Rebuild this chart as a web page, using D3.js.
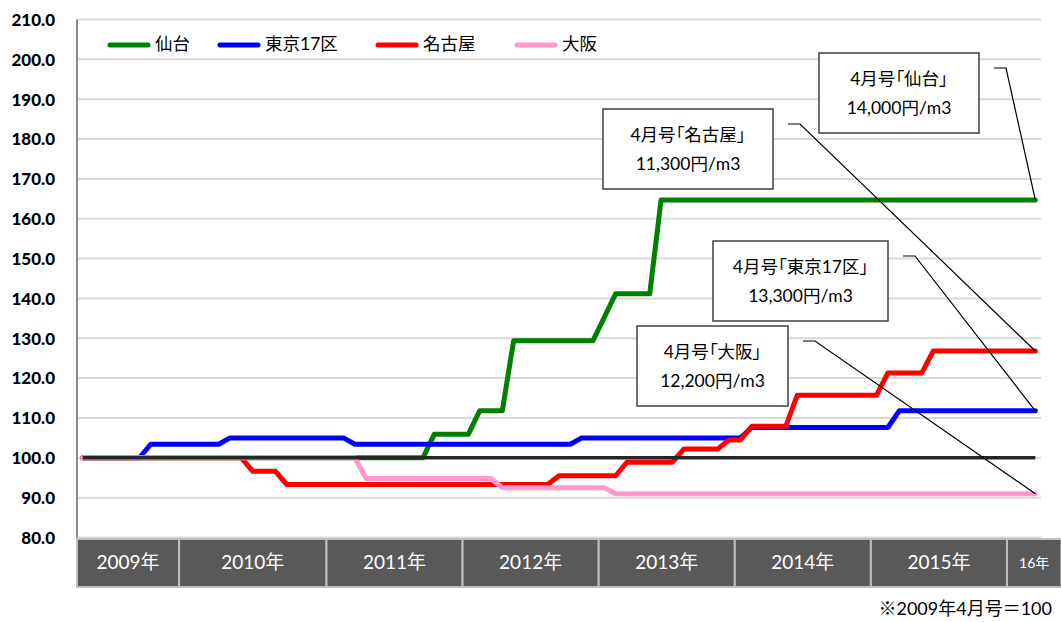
<!DOCTYPE html>
<html>
<head>
<meta charset="utf-8">
<script src="https://cdn.jsdelivr.net/npm/d3@7"></script>
<style>
  body { margin: 0; background: #fff; }
  svg { display: block; }
  text { font-family: Lato, "Noto Sans CJK JP", sans-serif; }
  .callout-title { font-feature-settings: "palt"; }
</style>
</head>
<body>
<script>
// monthly index, 2009年4月号 = 100 (Apr 2009 .. Apr 2016)
const firstMonth = new Date(2009, 3, 1);
const lastMonth = new Date(2016, 3, 1);

const seriesNames = ["仙台", "東京17区", "名古屋", "大阪"];
const seriesColors = ["#008000", "#0000ff", "#ff0000", "#ff99cc"];

const sendai = [
  100, 100, 100, 100, 100, 100, 100, 100, 100,                                   // 2009
  100, 100, 100, 100, 100, 100, 100, 100, 100, 100, 100, 100,                    // 2010
  100, 100, 100, 100, 100, 100, 100, 100, 100, 100, 105.9, 105.9,                // 2011
  105.9, 105.9, 111.8, 111.8, 111.8, 129.4, 129.4, 129.4, 129.4, 129.4, 129.4, 129.4, // 2012
  129.4, 135.3, 141.2, 141.2, 141.2, 141.2, 164.7, 164.7, 164.7, 164.7, 164.7, 164.7, // 2013
  164.7, 164.7, 164.7, 164.7, 164.7, 164.7, 164.7, 164.7, 164.7, 164.7, 164.7, 164.7, // 2014
  164.7, 164.7, 164.7, 164.7, 164.7, 164.7, 164.7, 164.7, 164.7, 164.7, 164.7, 164.7, // 2015
  164.7, 164.7, 164.7, 164.7                                                     // 2016
];
const tokyo17 = [
  100, 100, 100, 100, 100, 100, 103.4, 103.4, 103.4,
  103.4, 103.4, 103.4, 103.4, 105, 105, 105, 105, 105, 105, 105, 105,
  105, 105, 105, 103.4, 103.4, 103.4, 103.4, 103.4, 103.4, 103.4, 103.4, 103.4,
  103.4, 103.4, 103.4, 103.4, 103.4, 103.4, 103.4, 103.4, 103.4, 103.4, 103.4, 105,
  105, 105, 105, 105, 105, 105, 105, 105, 105, 105, 105, 105,
  105, 105, 107.6, 107.6, 107.6, 107.6, 107.6, 107.6, 107.6, 107.6, 107.6, 107.6,
  107.6, 107.6, 107.6, 111.8, 111.8, 111.8, 111.8, 111.8, 111.8, 111.8, 111.8, 111.8,
  111.8, 111.8, 111.8, 111.8
];
const nagoya = [
  100, 100, 100, 100, 100, 100, 100, 100, 100,
  100, 100, 100, 100, 100, 100, 96.6, 96.6, 96.6, 93.3, 93.3, 93.3,
  93.3, 93.3, 93.3, 93.3, 93.3, 93.3, 93.3, 93.3, 93.3, 93.3, 93.3, 93.3,
  93.3, 93.3, 93.3, 93.3, 93.3, 93.3, 93.3, 93.3, 93.3, 95.5, 95.5, 95.5,
  95.5, 95.5, 95.5, 98.9, 98.9, 98.9, 98.9, 98.9, 102.2, 102.2, 102.2, 102.2,
  104.5, 104.5, 107.9, 107.9, 107.9, 107.9, 115.7, 115.7, 115.7, 115.7, 115.7, 115.7,
  115.7, 115.7, 121.3, 121.3, 121.3, 121.3, 126.8, 126.8, 126.8, 126.8, 126.8, 126.8,
  126.8, 126.8, 126.8, 126.8
];
const osaka = [
  100, 100, 100, 100, 100, 100, 100, 100, 100,
  100, 100, 100, 100, 100, 100, 100, 100, 100, 100, 100, 100,
  100, 100, 100, 100, 94.8, 94.8, 94.8, 94.8, 94.8, 94.8, 94.8, 94.8,
  94.8, 94.8, 94.8, 94.8, 92.5, 92.5, 92.5, 92.5, 92.5, 92.5, 92.5, 92.5,
  92.5, 92.5, 91, 91, 91, 91, 91, 91, 91, 91, 91, 91,
  91, 91, 91, 91, 91, 91, 91, 91, 91, 91, 91, 91,
  91, 91, 91, 91, 91, 91, 91, 91, 91, 91, 91, 91,
  91, 91, 91, 91
];
const baseValue = 100;

const yTicks = [80, 90, 100, 110, 120, 130, 140, 150, 160, 170, 180, 190, 200, 210];

// year table under the chart: labels and cell edges in months from Apr 2009
const yearLabels = ["2009年", "2010年", "2011年", "2012年", "2013年", "2014年", "2015年", "16年"];
const yearEdges = [0, 9, 22, 34, 46, 58, 70, 82, 86.8];

// callouts: which series they point at, and their two text lines
const calloutSeries = [0, 2, 1, 3];
const calloutTitles = ["4月号「仙台」", "4月号「名古屋」", "4月号「東京17区」", "4月号「大阪」"];
const calloutPrices = ["14,000円/m3", "11,300円/m3", "13,300円/m3", "12,200円/m3"];

const footnote = "※2009年4月号＝100";

// ---------- layout ----------
const width = 1061, height = 622;
const plotLeft = 77, plotRight = 1041, plotTop = 19.5, plotBottom = 537.5;
const calloutBoxes = [
  { x: 819, y: 53, w: 160, h: 80 },
  { x: 603, y: 109, w: 170, h: 80 },
  { x: 713, y: 241, w: 175, h: 80 },
  { x: 637, y: 326, w: 151, h: 80 }
];
const legendX = [110, 220, 378, 517];

const series = [sendai, tokyo17, nagoya, osaka];
const months = d3.timeMonth.range(firstMonth, d3.timeMonth.offset(lastMonth, 1));

const svg = d3.select("body").append("svg")
  .attr("width", width)
  .attr("height", height);

const x = d3.scaleBand()
  .domain(months.map(d => +d))
  .range([plotLeft, plotRight])
  .padding(0);
const xc = i => x(+months[i]) + x.bandwidth() / 2;
const xEdge = d3.scaleLinear().domain([0, months.length]).range([plotLeft, plotRight]);

const y = d3.scaleLinear().domain([80, 210]).range([plotBottom, plotTop]);

// gridlines
svg.append("g")
  .selectAll("line")
  .data(yTicks)
  .enter()
  .append("line")
  .attr("x1", plotLeft)
  .attr("x2", plotRight)
  .attr("y1", d => y(d))
  .attr("y2", d => y(d))
  .attr("stroke", "#d9d9d9")
  .attr("stroke-width", 2);

// y axis line and labels
svg.append("line")
  .attr("x1", plotLeft).attr("x2", plotLeft)
  .attr("y1", plotTop).attr("y2", plotBottom)
  .attr("stroke", "#8c8c8c")
  .attr("stroke-width", 2);

svg.append("g")
  .selectAll("text")
  .data(yTicks)
  .enter()
  .append("text")
  .attr("x", 55)
  .attr("y", d => y(d) + 2)
  .attr("text-anchor", "end")
  .attr("dominant-baseline", "middle")
  .attr("font-size", 17)
  .attr("font-weight", 900)
  .attr("fill", "#000")
  .text(d => d3.format(".1f")(d));

// year table
const cells = svg.append("g")
  .selectAll("g")
  .data(yearLabels)
  .enter()
  .append("g");

cells.append("rect")
  .attr("x", (d, i) => xEdge(yearEdges[i]))
  .attr("y", 539)
  .attr("width", (d, i) => xEdge(yearEdges[i + 1]) - xEdge(yearEdges[i]))
  .attr("height", 48)
  .attr("fill", "#595959")
  .attr("stroke", "#bfbfbf")
  .attr("stroke-width", 2);

cells.append("text")
  .attr("x", (d, i) => (xEdge(yearEdges[i]) + xEdge(yearEdges[i + 1])) / 2)
  .attr("y", 564)
  .attr("text-anchor", "middle")
  .attr("dominant-baseline", "middle")
  .attr("font-size", (d, i) => i === yearLabels.length - 1 ? 14 : 19)
  .attr("fill", "#fff")
  .text(d => d);

// series lines
const line = d3.line()
  .x((d, i) => xc(i))
  .y(d => y(d));

svg.append("g")
  .selectAll("path")
  .data(series)
  .enter()
  .append("path")
  .attr("d", d => line(d))
  .attr("fill", "none")
  .attr("stroke", (d, i) => seriesColors[i])
  .attr("stroke-width", 5)
  .attr("stroke-linejoin", "round")
  .attr("stroke-linecap", "round");

// 100 baseline
svg.append("line")
  .attr("x1", xc(0))
  .attr("x2", xc(months.length - 1))
  .attr("y1", y(baseValue))
  .attr("y2", y(baseValue))
  .attr("stroke", "#262626")
  .attr("stroke-width", 3.5);

// legend
const legend = svg.append("g")
  .selectAll("g")
  .data(seriesNames)
  .enter()
  .append("g")
  .attr("transform", (d, i) => `translate(${legendX[i]},45)`);

legend.append("line")
  .attr("x1", 0).attr("x2", 38)
  .attr("y1", 0).attr("y2", 0)
  .attr("stroke", (d, i) => seriesColors[i])
  .attr("stroke-width", 5)
  .attr("stroke-linecap", "round");

legend.append("text")
  .attr("x", 45)
  .attr("y", 1)
  .attr("dominant-baseline", "middle")
  .attr("font-family", "'Noto Sans CJK JP', sans-serif")
  .attr("font-size", 17.5)
  .attr("fill", "#000")
  .text(d => d);

// callouts
const callouts = svg.append("g")
  .selectAll("g")
  .data(calloutSeries)
  .enter()
  .append("g");

callouts.append("polyline")
  .attr("points", (s, i) => {
    const b = calloutBoxes[i];
    const vals = series[s];
    const ex = xc(vals.length - 1), ey = y(vals[vals.length - 1]);
    return [[b.x + b.w + 15, b.y + 15], [b.x + b.w + 27, b.y + 15], [ex, ey]].join(" ");
  })
  .attr("fill", "none")
  .attr("stroke", "#000")
  .attr("stroke-width", 1.2);

callouts.append("rect")
  .attr("x", (s, i) => calloutBoxes[i].x)
  .attr("y", (s, i) => calloutBoxes[i].y)
  .attr("width", (s, i) => calloutBoxes[i].w)
  .attr("height", (s, i) => calloutBoxes[i].h)
  .attr("fill", "#fff")
  .attr("stroke", "#404040")
  .attr("stroke-width", 1.5);

callouts.append("text")
  .attr("class", "callout-title")
  .attr("x", (s, i) => calloutBoxes[i].x + calloutBoxes[i].w / 2)
  .attr("y", (s, i) => calloutBoxes[i].y + 28)
  .attr("text-anchor", "middle")
  .attr("dominant-baseline", "middle")
  .attr("font-family", "'Noto Sans CJK JP', sans-serif")
  .attr("font-size", 17.5)
  .attr("fill", "#000")
  .text((s, i) => calloutTitles[i]);

callouts.append("text")
  .attr("x", (s, i) => calloutBoxes[i].x + calloutBoxes[i].w / 2)
  .attr("y", (s, i) => calloutBoxes[i].y + 57)
  .attr("text-anchor", "middle")
  .attr("dominant-baseline", "middle")
  .attr("font-size", 17.5)
  .attr("fill", "#000")
  .text((s, i) => calloutPrices[i]);

// footnote
svg.append("text")
  .attr("x", 1052)
  .attr("y", 610)
  .attr("text-anchor", "end")
  .attr("dominant-baseline", "middle")
  .attr("font-size", 18)
  .attr("fill", "#000")
  .text(footnote);
</script>
</body>
</html>
